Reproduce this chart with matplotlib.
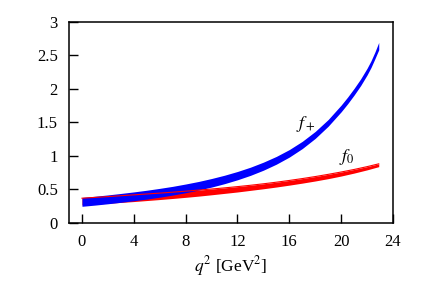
import numpy as np
import matplotlib
matplotlib.use("Agg")
import matplotlib.pyplot as plt

# ── Data ─────────────────────────────────────────────────────────────────────
# band centre and half-width for f+ (blue) and f0 (red)
q2_plus = [0, 1, 2, 3, 4, 5, 6, 7, 8, 9, 10, 11, 12, 13, 14, 15, 16, 17, 18,
           19, 20, 20.5, 21, 21.5, 22, 22.3, 22.6, 22.9]
fplus_mid = [0.315, 0.333, 0.353, 0.375, 0.398, 0.423, 0.451, 0.482, 0.517,
             0.556, 0.600, 0.650, 0.707, 0.772, 0.848, 0.936, 1.040, 1.165,
             1.315, 1.495, 1.710, 1.830, 1.960, 2.100, 2.260, 2.370, 2.500, 2.640]
fplus_hw = [0.066, 0.066, 0.066, 0.066, 0.066, 0.066, 0.066, 0.065, 0.065,
            0.064, 0.064, 0.063, 0.062, 0.061, 0.060, 0.058, 0.056, 0.054,
            0.052, 0.050, 0.050, 0.050, 0.050, 0.050, 0.050, 0.050, 0.050, 0.055]

q2_zero = [0, 1, 2, 3, 4, 5, 6, 7, 8, 9, 10, 11, 12, 13, 14, 15, 16, 17, 18,
           19, 20, 21, 22, 22.9]
fzero_mid = [0.320, 0.332, 0.344, 0.357, 0.370, 0.384, 0.398, 0.413, 0.429,
             0.446, 0.464, 0.483, 0.503, 0.525, 0.548, 0.573, 0.600, 0.629,
             0.660, 0.694, 0.731, 0.772, 0.817, 0.862]
fzero_hw = [0.050, 0.050, 0.050, 0.050, 0.050, 0.049, 0.048, 0.047, 0.046,
            0.045, 0.043, 0.041, 0.040, 0.038, 0.037, 0.036, 0.035, 0.034,
            0.033, 0.032, 0.030, 0.027, 0.024, 0.021]

xticks = [0, 4, 8, 12, 16, 20, 24]
yticks = [0, 0.5, 1, 1.5, 2, 2.5, 3]
yticklabels = ["0", "0.5", "1", "1.5", "2", "2.5", "3"]

fplus_lo = np.subtract(fplus_mid, fplus_hw)
fplus_hi = np.add(fplus_mid, fplus_hw)
fzero_lo = np.subtract(fzero_mid, fzero_hw)
fzero_hi = np.add(fzero_mid, fzero_hw)

# ── Style ────────────────────────────────────────────────────────────────────
plt.rcParams["font.family"] = ["Liberation Serif", "DejaVu Serif"]
plt.rcParams["mathtext.fontset"] = "stix"

fig = plt.figure(figsize=(4.25, 2.98), dpi=100)
ax = fig.add_axes([0.1624, 0.2517, 0.7623, 0.6745])

ax.fill_between(q2_zero, fzero_lo, fzero_hi, color="#ff0000", lw=0, zorder=2)
ax.fill_between(q2_plus, fplus_lo, fplus_hi, color="#0000ff", lw=0, zorder=3)
# upper edge of f0 shows through the f+ band
ax.plot(q2_zero, fzero_hi, color="#ff0000", lw=0.8, zorder=4)

ax.text(17.3, 1.48, r"$f_+$", fontsize=13, ha="center", va="center")
ax.text(20.4, 0.99, r"$f_0$", fontsize=13, ha="center", va="center")

ax.set_xlim(-1, 24)
ax.set_ylim(0, 3)
ax.set_xticks(xticks)
ax.set_yticks(yticks)
ax.set_yticklabels(yticklabels)
ax.tick_params(direction="in", length=6.5, width=1.0, labelsize=12,
               top=False, right=False)
ax.tick_params(axis="x", pad=8)
ax.tick_params(axis="y", pad=8)
for s in ax.spines.values():
    s.set_linewidth(1.1)

ax.set_xlabel(r"$q^2$ [GeV$^2$]", fontsize=12.5, labelpad=3)

fig.savefig("out.png", dpi=100)
